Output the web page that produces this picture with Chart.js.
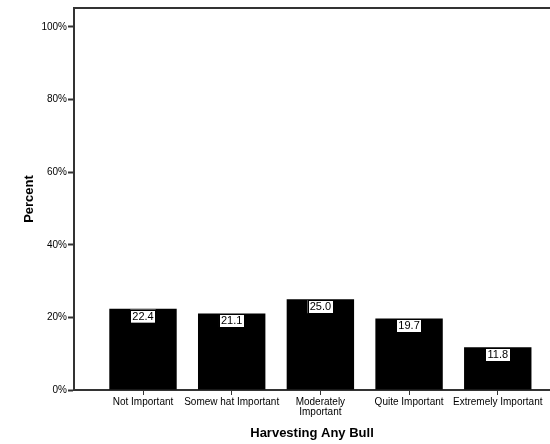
<!DOCTYPE html>
<html>
<head>
<meta charset="utf-8">
<script src="https://cdn.jsdelivr.net/npm/chart.js@4/dist/chart.umd.min.js"></script>
<style>
  html, body { margin: 0; padding: 0; background: #fff; }
  #wrap { width: 550px; height: 444px; }
</style>
</head>
<body>
<div id="wrap"><canvas id="myChart" width="550" height="444"></canvas></div>
<script>
const categories = ['Not Important', 'Somew hat Important', ['Moderately', 'Important'], 'Quite Important', 'Extremely Important'];
const percents = [22.4, 21.1, 25.0, 19.7, 11.8];
const yTicks = [0, 20, 40, 60, 80, 100];

// white boxed value labels at the top of each bar
const valueLabels = {
    id: 'valueLabels',
    afterDatasetsDraw(chart) {
        const ctx = chart.ctx;
        const meta = chart.getDatasetMeta(0);
        ctx.save();
        ctx.font = '11px "Liberation Sans", Arial, sans-serif';
        ctx.textAlign = 'center';
        ctx.textBaseline = 'middle';
        meta.data.forEach(function(bar, i) {
            const txt = percents[i].toFixed(1);
            const w = ctx.measureText(txt).width + 4;
            const h = 13;
            const x = bar.x - w / 2;
            const y = bar.y + 1;
            ctx.fillStyle = '#fff';
            ctx.fillRect(x, y, w, h);
            ctx.strokeStyle = '#000';
            ctx.lineWidth = 1;
            ctx.strokeRect(Math.round(x) + 0.5, Math.round(y) + 0.5, Math.round(w), h);
            ctx.fillStyle = '#000';
            ctx.fillText(txt, bar.x, y + h / 2 + 0.5);
        });
        ctx.restore();
    }
};

// top frame line of the plot
const topFrame = {
    id: 'topFrame',
    afterDraw(chart) {
        const a = chart.chartArea;
        const ctx = chart.ctx;
        ctx.save();
        ctx.strokeStyle = '#333';
        ctx.lineWidth = 2;
        ctx.beginPath();
        ctx.moveTo(a.left - 1, a.top);
        ctx.lineTo(chart.width, a.top);
        ctx.stroke();
        ctx.restore();
    }
};

const ctx = document.getElementById('myChart').getContext('2d');
const myChart = new Chart(ctx, {
    type: 'bar',
    data: {
        datasets: [{
            data: percents.map(function(v, i) { return { x: i, y: v }; }),
            backgroundColor: '#000',
            borderWidth: 0,
            categoryPercentage: 1,
            barPercentage: 0.76
        }]
    },
    options: {
        responsive: false,
        animation: false,
        layout: { padding: { top: 8, right: 0, left: 0, bottom: 0 } },
        plugins: { legend: { display: false }, tooltip: { enabled: false } },
        scales: {
            x: {
                type: 'linear',
                offset: false,
                min: -0.778,
                max: 4.589,
                afterFit(scale) { scale.height = 54; },
                afterBuildTicks(scale) {
                    scale.ticks = categories.map(function(c, i) { return { value: i }; });
                },
                ticks: {
                    autoSkip: false,
                    maxRotation: 0,
                    padding: 2,
                    color: '#000',
                    font: { family: '"Liberation Sans", Arial, sans-serif', size: 10, lineHeight: 1.0 },
                    callback: function(v) { return categories[v]; }
                },
                grid: { offset: false, drawOnChartArea: false, drawTicks: true, tickLength: 5, tickColor: '#333', tickWidth: 1 },
                border: { color: '#333', width: 2 },
                title: {
                    display: true,
                    text: 'Harvesting Any Bull',
                    color: '#000',
                    font: { family: '"Liberation Sans", Arial, sans-serif', size: 13, weight: 'bold' },
                    padding: { top: 0, bottom: 3 }
                }
            },
            y: {
                min: 0,
                max: 105.2,
                afterFit(scale) { scale.width = 74; },
                afterBuildTicks(scale) {
                    scale.ticks = yTicks.map(function(v) { return { value: v }; });
                },
                ticks: {
                    padding: 1,
                    color: '#000',
                    font: { family: '"Liberation Sans", Arial, sans-serif', size: 10 },
                    callback: function(v) { return v + '%'; }
                },
                grid: { drawOnChartArea: false, drawTicks: true, tickLength: 6, tickColor: '#333', tickWidth: 2 },
                border: { color: '#333', width: 2 },
                title: {
                    display: true,
                    text: 'Percent',
                    color: '#000',
                    font: { family: '"Liberation Sans", Arial, sans-serif', size: 13, weight: 'bold' },
                    padding: { top: 22, bottom: 0 }
                }
            }
        }
    },
    plugins: [valueLabels, topFrame]
});
</script>
</body>
</html>
